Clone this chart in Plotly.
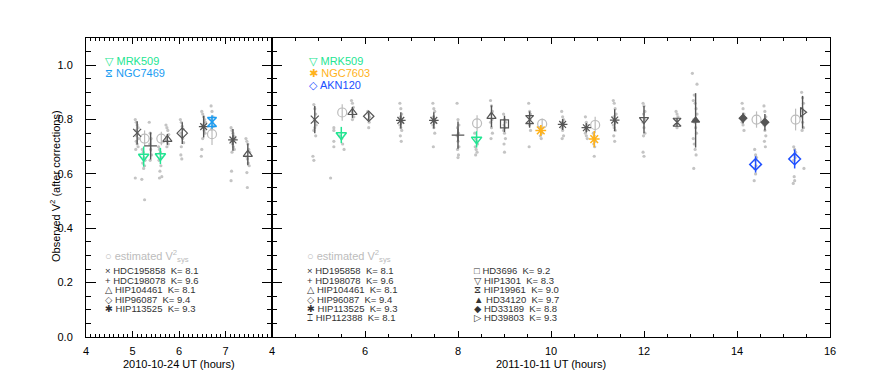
import plotly.graph_objects as go

# ---------------- 2010-10-24 (left panel) ----------------
L_cal_star = ["HDC195858", "HDC198078", "HIP104461", "HIP96087", "HIP113525", "HIP113525", "HIP104461"]
L_cal_t = [5.10, 5.39, 5.75, 6.07, 6.53, 7.16, 7.48]
L_cal_v = [0.751, 0.703, 0.727, 0.750, 0.774, 0.725, 0.672]
L_cal_e = [0.043, 0.050, 0.020, 0.040, 0.040, 0.040, 0.040]

L_sys_t = [5.26, 5.62, 6.71]
L_sys_v = [0.730, 0.730, 0.746]
L_sys_e = [0.030, 0.025, 0.040]

L_tgt_name = ["MRK509", "MRK509", "NGC7469"]
L_tgt_t = [5.24, 5.60, 6.71]
L_tgt_v = [0.664, 0.666, 0.791]
L_tgt_e = [0.037, 0.030, 0.025]

L_dot_t = [5.06, 5.08, 5.10, 5.12, 5.07, 5.11, 5.09, 5.13, 5.08, 5.10, 5.12, 5.07, 5.06,
           5.21, 5.23, 5.25, 5.27, 5.22, 5.26, 5.24, 5.20, 5.26,
           5.36, 5.38, 5.40, 5.37, 5.39, 5.41, 5.38,
           5.56, 5.58, 5.60, 5.62, 5.57, 5.61, 5.59, 5.63, 5.58,
           5.72, 5.74, 5.76, 5.78, 5.73, 5.75, 5.77, 5.74,
           6.03, 6.05, 6.07, 6.09, 6.04, 6.06, 6.08, 6.10, 6.05, 6.04, 6.06,
           6.49, 6.51, 6.53, 6.55, 6.57, 6.50, 6.52, 6.54, 6.56, 6.51, 6.49, 6.48,
           6.69, 6.71, 6.73, 6.70, 6.72, 6.74, 6.70,
           7.12, 7.14, 7.16, 7.18, 7.20, 7.13, 7.15, 7.17, 7.19, 7.14, 7.13, 7.12,
           7.44, 7.46, 7.48, 7.50, 7.52, 7.45, 7.47, 7.49, 7.51, 7.46, 7.47]
L_dot_v = [0.80, 0.79, 0.78, 0.77, 0.76, 0.75, 0.74, 0.73, 0.72, 0.71, 0.70, 0.69, 0.585,
           0.69, 0.68, 0.66, 0.65, 0.64, 0.63, 0.62, 0.58, 0.505,
           0.79, 0.75, 0.73, 0.71, 0.69, 0.67, 0.65,
           0.70, 0.69, 0.68, 0.66, 0.65, 0.63, 0.61, 0.59, 0.585,
           0.78, 0.77, 0.76, 0.745, 0.73, 0.72, 0.71, 0.70,
           0.80, 0.79, 0.775, 0.765, 0.75, 0.74, 0.73, 0.715, 0.70, 0.67, 0.655,
           0.83, 0.82, 0.81, 0.80, 0.79, 0.78, 0.77, 0.76, 0.75, 0.73, 0.69, 0.665,
           0.85, 0.83, 0.81, 0.80, 0.79, 0.775, 0.765,
           0.77, 0.76, 0.75, 0.74, 0.73, 0.72, 0.71, 0.70, 0.69, 0.68, 0.61, 0.575,
           0.73, 0.72, 0.71, 0.69, 0.68, 0.665, 0.655, 0.64, 0.63, 0.605, 0.55]

L_legend = ["HDC195858  K= 8.1", "HDC198078  K= 9.6", "HIP104461  K= 8.1",
            "HIP96087  K= 9.4", "HIP113525  K= 9.3"]

# ---------------- 2011-10-11 (right panel) ----------------
R_cal_star = ["HD195858", "HIP104461", "HIP96087", "HIP113525", "HIP113525", "HD198078",
              "HIP104461", "HD3696", "HIP112388", "HIP113525", "HIP113525", "HIP113525",
              "HIP1301", "HIP19961", "HD34120", "HD33189", "HD33189", "HD39803"]
R_cal_t = [4.92, 5.73, 6.08, 6.77, 7.48, 8.00, 8.72, 9.00, 9.54, 10.25, 10.76, 11.37,
           12.00, 12.71, 13.11, 14.13, 14.60, 15.41]
R_cal_v = [0.800, 0.826, 0.812, 0.797, 0.797, 0.743, 0.812, 0.784, 0.800, 0.782, 0.770, 0.798,
           0.800, 0.790, 0.797, 0.805, 0.790, 0.827]
R_cal_e = [0.050, 0.020, 0.015, 0.030, 0.030, 0.050, 0.040, 0.030, 0.030, 0.020, 0.015, 0.040,
           0.050, 0.015, 0.100, 0.020, 0.030, 0.060]

R_sys_t = [5.51, 8.41, 9.81, 10.95, 14.42, 15.26]
R_sys_v = [0.826, 0.786, 0.784, 0.780, 0.800, 0.800]
R_sys_e = [0.030, 0.030, 0.020, 0.030, 0.030, 0.040]

R_tgt_name = ["MRK509", "MRK509", "NGC7603", "NGC7603", "AKN120", "AKN120"]
R_tgt_t = [5.49, 8.40, 9.78, 10.93, 14.40, 15.24]
R_tgt_v = [0.743, 0.727, 0.760, 0.728, 0.635, 0.655]
R_tgt_e = [0.030, 0.030, 0.020, 0.030, 0.030, 0.035]

R_dot_t = [4.90, 4.92, 4.94, 4.91, 4.93, 4.95, 4.92, 4.90, 4.94, 4.88, 4.90,
           5.33, 5.33, 5.45, 5.50, 5.33, 5.52, 5.33, 5.55, 5.26,
           5.71, 5.73, 5.75, 5.72, 5.74, 5.76, 5.73,
           6.06, 6.08, 6.10, 6.07, 6.09, 6.08,
           6.75, 6.77, 6.79, 6.76, 6.78, 6.80, 6.75, 6.77, 6.79, 6.76, 6.78,
           7.46, 7.48, 7.50, 7.47, 7.49, 7.51, 7.46, 7.48, 7.50, 7.47,
           7.98, 8.00, 8.02, 7.99, 8.01, 7.98, 8.00, 8.02, 7.99, 8.01, 8.00,
           8.36, 8.38, 8.40, 8.42, 8.37, 8.39, 8.41, 8.38,
           8.70, 8.72, 8.74, 8.71, 8.73, 8.70, 8.72, 8.74, 8.71,
           8.98, 9.00, 9.02, 8.99, 9.01, 8.98, 9.00, 9.02, 8.99, 9.00,
           9.52, 9.54, 9.56, 9.53, 9.55, 9.52, 9.54, 9.56, 9.53,
           9.76, 9.78, 9.80, 9.77, 9.79,
           10.23, 10.25, 10.27, 10.24, 10.26, 10.23, 10.25, 10.27, 10.24,
           10.74, 10.76, 10.78, 10.75, 10.77, 10.74, 10.76, 10.78,
           10.91, 10.93, 10.95, 10.92, 10.94, 10.93,
           11.34, 11.36, 11.38, 11.40, 11.35, 11.37, 11.39, 11.34, 11.36, 11.38, 11.35, 11.37,
           11.98, 12.00, 12.02, 11.99, 12.01, 11.98, 12.00, 12.02, 11.99, 11.98, 12.00,
           12.69, 12.71, 12.73, 12.70, 12.72, 12.69, 12.71,
           13.04, 13.14, 13.08, 13.06, 13.10, 13.12, 13.14, 13.07, 13.09, 13.11, 13.13, 13.06,
           13.08, 13.10, 13.12, 13.07,
           14.11, 14.13, 14.15, 14.12, 14.14, 14.11, 14.13, 14.15,
           14.38, 14.40, 14.42, 14.39, 14.41, 14.38, 14.40, 14.37,
           14.58, 14.60, 14.62, 14.59, 14.61, 14.58, 14.60, 14.62, 14.59, 14.61,
           15.22, 15.24, 15.26, 15.23, 15.25, 15.22, 15.23, 15.24, 15.21,
           15.39, 15.41, 15.43, 15.40, 15.42, 15.39, 15.41, 15.43, 15.40, 15.44]
R_dot_v = [0.855, 0.84, 0.82, 0.80, 0.79, 0.78, 0.77, 0.76, 0.74, 0.665, 0.65,
           0.77, 0.76, 0.74, 0.73, 0.72, 0.71, 0.70, 0.69, 0.585,
           0.87, 0.86, 0.845, 0.83, 0.82, 0.81, 0.80,
           0.83, 0.82, 0.81, 0.80, 0.79, 0.77,
           0.86, 0.84, 0.82, 0.81, 0.80, 0.79, 0.78, 0.77, 0.76, 0.74, 0.72,
           0.86, 0.84, 0.83, 0.81, 0.80, 0.79, 0.78, 0.77, 0.75, 0.70,
           0.86, 0.80, 0.78, 0.77, 0.75, 0.74, 0.72, 0.70, 0.69, 0.67, 0.66,
           0.75, 0.73, 0.72, 0.71, 0.70, 0.69, 0.68, 0.67,
           0.87, 0.85, 0.83, 0.82, 0.80, 0.79, 0.77, 0.75, 0.73,
           0.82, 0.80, 0.79, 0.78, 0.77, 0.76, 0.75, 0.73, 0.71, 0.68,
           0.86, 0.83, 0.82, 0.81, 0.80, 0.79, 0.78, 0.76, 0.70,
           0.77, 0.76, 0.75, 0.74, 0.73,
           0.83, 0.81, 0.80, 0.79, 0.78, 0.77, 0.76, 0.74, 0.73,
           0.81, 0.79, 0.78, 0.77, 0.76, 0.75, 0.74, 0.73,
           0.75, 0.74, 0.72, 0.71, 0.70, 0.665,
           0.87, 0.86, 0.84, 0.82, 0.81, 0.80, 0.79, 0.78, 0.77, 0.76, 0.74, 0.72,
           0.86, 0.85, 0.83, 0.82, 0.80, 0.79, 0.77, 0.75, 0.74, 0.68, 0.665,
           0.83, 0.82, 0.81, 0.80, 0.79, 0.78, 0.77,
           0.97, 0.93, 0.89, 0.87, 0.86, 0.84, 0.82, 0.80, 0.79, 0.77, 0.75, 0.73,
           0.71, 0.69, 0.67, 0.62,
           0.86, 0.84, 0.82, 0.81, 0.80, 0.79, 0.78, 0.76,
           0.69, 0.67, 0.66, 0.65, 0.63, 0.62, 0.60, 0.575,
           0.85, 0.83, 0.81, 0.80, 0.79, 0.78, 0.76, 0.74, 0.72, 0.70,
           0.70, 0.69, 0.68, 0.67, 0.66, 0.65, 0.59, 0.575, 0.565,
           0.90, 0.88, 0.86, 0.84, 0.83, 0.81, 0.79, 0.77, 0.76, 0.62]

R_legend_col1 = ["HD195858  K= 8.1", "HD198078  K= 9.6", "HIP104461  K= 8.1",
                 "HIP96087  K= 9.4", "HIP113525  K= 9.3", "HIP112388  K= 8.1"]
R_legend_col2 = ["HD3696  K= 9.2", "HIP1301  K= 8.3", "HIP19961  K= 9.0",
                 "HD34120  K= 9.7", "HD33189  K= 8.8", "HD39803  K= 9.3"]

# ---------------- styles ----------------
CAL_COLOR = "#555555"
DOT_COLOR = "#c4c4c4"
SYS_COLOR = "#bcbcbc"
TGT_COLOR = {"MRK509": "#22e592", "NGC7469": "#1a9cf2", "NGC7603": "#ffb21a", "AKN120": "#2050ff"}
TGT_SYMBOL = {"MRK509": "triangle-down-open", "NGC7469": "hourglass-open",
              "NGC7603": "asterisk-open", "AKN120": "diamond-open"}
TGT_GLYPH = {"MRK509": "▽", "NGC7469": "⧖", "NGC7603": "✱", "AKN120": "◇"}
CAL_SYMBOL = {"HDC195858": "x-thin-open", "HD195858": "x-thin-open",
              "HDC198078": "cross-thin-open", "HD198078": "cross-thin-open",
              "HIP104461": "triangle-up-open", "HIP96087": "diamond-open",
              "HIP113525": "asterisk-open", "HIP112388": "hourglass-open",
              "HD3696": "square-open", "HIP1301": "triangle-down-open",
              "HIP19961": "hourglass-open", "HD34120": "triangle-up",
              "HD33189": "diamond", "HD39803": "triangle-right-open"}
CAL_SIZE = {"triangle-up": 7, "diamond": 6, "cross-thin-open": 9}
L_GLYPH = ["×", "+", "△", "◇", "✱"]
R_GLYPH1 = ["×", "+", "△", "◇", "✱", "⌶"]
R_GLYPH2 = ["□", "▽", "⧖", "▲", "◆", "▷"]

FONT = "Liberation Sans, Arial, DejaVu Sans"

fig = go.Figure()


def add_panel(xa, ya, dot_t, dot_v, sys_t, sys_v, sys_e, cal_star, cal_t, cal_v, cal_e,
              tgt_name, tgt_t, tgt_v, tgt_e):
    fig.add_trace(go.Scatter(x=dot_t, y=dot_v, mode="markers", xaxis=xa, yaxis=ya,
                             marker=dict(color=DOT_COLOR, size=3.2, symbol="circle"),
                             showlegend=False, hoverinfo="skip"))
    fig.add_trace(go.Scatter(x=sys_t, y=sys_v, mode="markers", xaxis=xa, yaxis=ya,
                             marker=dict(color=SYS_COLOR, size=9, symbol="circle-open",
                                         line=dict(width=1.2)),
                             error_y=dict(type="data", array=sys_e, color=SYS_COLOR,
                                          thickness=1.2, width=0),
                             showlegend=False))
    for star in dict.fromkeys(cal_star):
        idx = [i for i, s in enumerate(cal_star) if s == star]
        sym = CAL_SYMBOL[star]
        fig.add_trace(go.Scatter(x=[cal_t[i] for i in idx], y=[cal_v[i] for i in idx],
                                 mode="markers", xaxis=xa, yaxis=ya, name=star,
                                 marker=dict(color=CAL_COLOR, size=CAL_SIZE.get(sym, 8),
                                             symbol=sym, line=dict(width=1.2, color=CAL_COLOR)),
                                 error_y=dict(type="data", array=[cal_e[i] for i in idx],
                                              color=CAL_COLOR, thickness=1.4, width=0),
                                 showlegend=False))
    for name in dict.fromkeys(tgt_name):
        idx = [i for i, s in enumerate(tgt_name) if s == name]
        c = TGT_COLOR[name]
        fig.add_trace(go.Scatter(x=[tgt_t[i] for i in idx], y=[tgt_v[i] for i in idx],
                                 mode="markers", xaxis=xa, yaxis=ya, name=name,
                                 marker=dict(color=c, size=9, symbol=TGT_SYMBOL[name],
                                             line=dict(width=1.5, color=c)),
                                 error_y=dict(type="data", array=[tgt_e[i] for i in idx],
                                              color=c, thickness=1.5, width=0),
                                 showlegend=False))


add_panel("x", "y", L_dot_t, L_dot_v, L_sys_t, L_sys_v, L_sys_e, L_cal_star, L_cal_t,
          L_cal_v, L_cal_e, L_tgt_name, L_tgt_t, L_tgt_v, L_tgt_e)
add_panel("x2", "y2", R_dot_t, R_dot_v, R_sys_t, R_sys_v, R_sys_e, R_cal_star, R_cal_t,
          R_cal_v, R_cal_e, R_tgt_name, R_tgt_t, R_tgt_v, R_tgt_e)

# ---------------- layout ----------------
OFF = 8                      # page body margin of the browser
W, H = 872 - OFF, 377 - OFF
ML, MR, MT, MB = 78, 42, 30, 40
PW, PH = W - ML - MR, H - MT - MB


def px(xp):
    return (xp - OFF - ML) / PW


def py(yp):
    return (H - MB - (yp - OFF)) / PH


axis_common = dict(showline=True, linecolor="black", linewidth=1, mirror="allticks",
                   ticks="inside", tickcolor="black", showgrid=False, zeroline=False,
                   tickfont=dict(family=FONT, size=11, color="black"))

fig.update_layout(
    width=W, height=H, margin=dict(l=ML, r=MR, t=MT, b=MB),
    paper_bgcolor="white", plot_bgcolor="white",
    xaxis=dict(domain=[0, 0.25], range=[4, 8], tickmode="array",
               tickvals=[4, 5, 6, 7, 8], ticktext=["4", "5", "6", "7", ""],
               ticklen=6, ticklabelstandoff=4,
               minor=dict(ticks="inside", tickmode="linear", tick0=4, dtick=0.1, ticklen=3,
                          tickcolor="black"),
               **axis_common),
    xaxis2=dict(domain=[0.25, 1], range=[4, 16], tickmode="linear", tick0=4, dtick=2,
                ticklen=6, ticklabelstandoff=4, anchor="y2",
                minor=dict(ticks="inside", tickmode="linear", tick0=4, dtick=0.5, ticklen=3,
                           tickcolor="black"),
                **axis_common),
    yaxis=dict(range=[0, 1.1], tickmode="linear", tick0=0, dtick=0.2, tickformat=".1f",
               ticklen=10, ticklabelstandoff=10, anchor="x",
               minor=dict(ticks="inside", tickmode="linear", tick0=0, dtick=0.05, ticklen=5,
                          tickcolor="black"),
               **axis_common),
    yaxis2=dict(range=[0, 1.1], tickmode="linear", tick0=0, dtick=0.2, showticklabels=False,
                ticklen=10, anchor="x2",
                minor=dict(ticks="inside", tickmode="linear", tick0=0, dtick=0.05, ticklen=5,
                           tickcolor="black"),
                **axis_common),
    showlegend=False,
)

ann = []


def text(xp, yp, s, color="black", size=9.5, xanchor="left", angle=0):
    ann.append(dict(x=px(xp), y=py(yp), xref="paper", yref="paper", text=s, showarrow=False,
                    xanchor=xanchor, yanchor="middle", textangle=angle,
                    font=dict(family=FONT, size=size, color=color)))


def dtext(xr, yr, xv, yv, s, color="#333333", size=9.5):
    # legend text placed in a panel's own data coordinates
    ann.append(dict(x=xv, y=yv, xref=xr, yref=yr, text=s, showarrow=False,
                    xanchor="left", yanchor="middle",
                    font=dict(family=FONT, size=size, color=color)))


# axis titles
text(55, 186, "Observed V<sup>2</sup> (after corrections)", size=11, xanchor="center", angle=-90)
text(179, 364, "2010-10-24 UT (hours)", size=11, xanchor="center")
text(551, 364, "2011-10-11 UT (hours)", size=11, xanchor="center")

# left legends
dtext("x", "y", 4.37, 1.015, TGT_GLYPH["MRK509"] + " MRK509", TGT_COLOR["MRK509"], 11)
dtext("x", "y", 4.37, 0.972, TGT_GLYPH["NGC7469"] + " NGC7469", TGT_COLOR["NGC7469"], 11)
dtext("x", "y", 4.37, 0.297, "○ estimated V<sup>2</sup><sub>sys</sub>", SYS_COLOR, 11)
for k, (g, s) in enumerate(zip(L_GLYPH, L_legend)):
    dtext("x", "y", 4.37, 0.243 - 0.0346 * k, g + " " + s)

# right legends
dtext("x2", "y2", 4.75, 1.015, TGT_GLYPH["MRK509"] + " MRK509", TGT_COLOR["MRK509"], 11)
dtext("x2", "y2", 4.75, 0.972, TGT_GLYPH["NGC7603"] + " NGC7603", TGT_COLOR["NGC7603"], 11)
dtext("x2", "y2", 4.75, 0.928, TGT_GLYPH["AKN120"] + " AKN120", TGT_COLOR["AKN120"], 11)
dtext("x2", "y2", 4.72, 0.297, "○ estimated V<sup>2</sup><sub>sys</sub>", SYS_COLOR, 11)
for k, (g, s) in enumerate(zip(R_GLYPH1, R_legend_col1)):
    dtext("x2", "y2", 4.72, 0.243 - 0.0346 * k, g + " " + s)
for k, (g, s) in enumerate(zip(R_GLYPH2, R_legend_col2)):
    dtext("x2", "y2", 8.31, 0.243 - 0.0346 * k, g + " " + s)

fig.update_layout(annotations=ann)
fig.write_html("out.html")
